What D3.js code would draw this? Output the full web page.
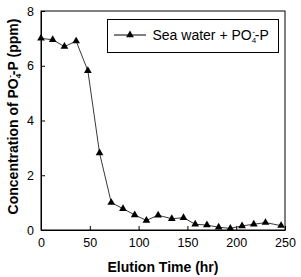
<!DOCTYPE html>
<html><head><meta charset="utf-8">
<script src="https://cdn.jsdelivr.net/npm/d3@7"></script>
<style>body{margin:0;background:#fff}svg{display:block}text{font-family:Arial,"Liberation Sans",sans-serif}</style>
</head><body><svg id="c" width="301" height="277"></svg>
<script>
const times = [0,12,24,36,48,60,72,84,96,108,120,134,146,158,170,182,194,206,218,230,246];
const conc = [7.0,6.95,6.7,6.9,5.82,2.81,1.0,0.78,0.55,0.35,0.54,0.41,0.45,0.21,0.18,0.1,0.06,0.15,0.21,0.27,0.16];
const xTicks = [0,50,100,150,200,250];
const yTicks = [0,2,4,6,8];

const svg = d3.select("#c");
const m = {l:41, r:285, t:11, b:230};
const x = d3.scaleLinear().domain([0,250]).range([m.l,m.r]);
const y = d3.scaleLinear().domain([0,8]).range([m.b,m.t]);

svg.append("rect").attr("x",m.l).attr("y",m.t).attr("width",m.r-m.l).attr("height",m.b-m.t)
  .attr("fill","none").attr("stroke","#000").attr("stroke-width",1);

const xa = svg.append("g").attr("transform",`translate(0,${m.b})`)
  .call(d3.axisBottom(x).tickValues(xTicks).tickSizeInner(-4).tickSizeOuter(0).tickPadding(8));
const ya = svg.append("g").attr("transform",`translate(${m.l},0)`)
  .call(d3.axisLeft(y).tickValues(yTicks).tickSizeInner(-4).tickSizeOuter(0).tickPadding(7));
[xa,ya].forEach(a=>{a.select(".domain").attr("stroke","#000");a.selectAll("text").attr("font-size",12.5).attr("fill","#000").attr("font-family","Arial");});

const line = d3.line().x((d,i)=>x(times[i])).y(d=>y(d));
svg.append("path").attr("d",line(conc)).attr("fill","none").attr("stroke","#222").attr("stroke-width",0.9);
const tri = d3.symbol().type(d3.symbolTriangle).size(26);
svg.selectAll(".pt").data(conc).enter().append("path")
  .attr("d",tri).attr("transform",(d,i)=>`translate(${x(times[i])},${y(d)})`).attr("fill","#000");

// legend
svg.append("rect").attr("x",107.5).attr("y",19.5).attr("width",171).attr("height",33)
  .attr("fill","#fff").attr("stroke","#000");
svg.append("line").attr("x1",114).attr("x2",146).attr("y1",35).attr("y2",35).attr("stroke","#000");
svg.append("path").attr("d",tri).attr("transform","translate(130,35)").attr("fill","#000");
const lt = svg.append("text").attr("x",152.5).attr("y",40).attr("font-size",14).attr("fill","#000");
lt.append("tspan").text("Sea water + PO");
lt.append("tspan").attr("font-size",8).attr("dy",3).text("4");
lt.append("tspan").attr("font-size",8).attr("dx",-4).attr("dy",-9).text("-");
lt.append("tspan").attr("dy",6).text("-P");

svg.append("text").attr("x",(m.l+m.r)/2).attr("y",272).attr("text-anchor","middle")
  .attr("font-size",14).attr("font-weight","bold").text("Elution Time (hr)");
const yl = svg.append("text").attr("transform",`translate(18,${(m.t+m.b)/2 - 4}) rotate(-90)`)
  .attr("text-anchor","middle").attr("font-size",14).attr("font-weight","bold");
yl.append("tspan").text("Concentration of PO");
yl.append("tspan").attr("font-size",8).attr("dy",3).text("4");
yl.append("tspan").attr("font-size",8).attr("dx",-4).attr("dy",-9).text("-");
yl.append("tspan").attr("dy",6).text("-P (ppm)");
</script></body></html>
